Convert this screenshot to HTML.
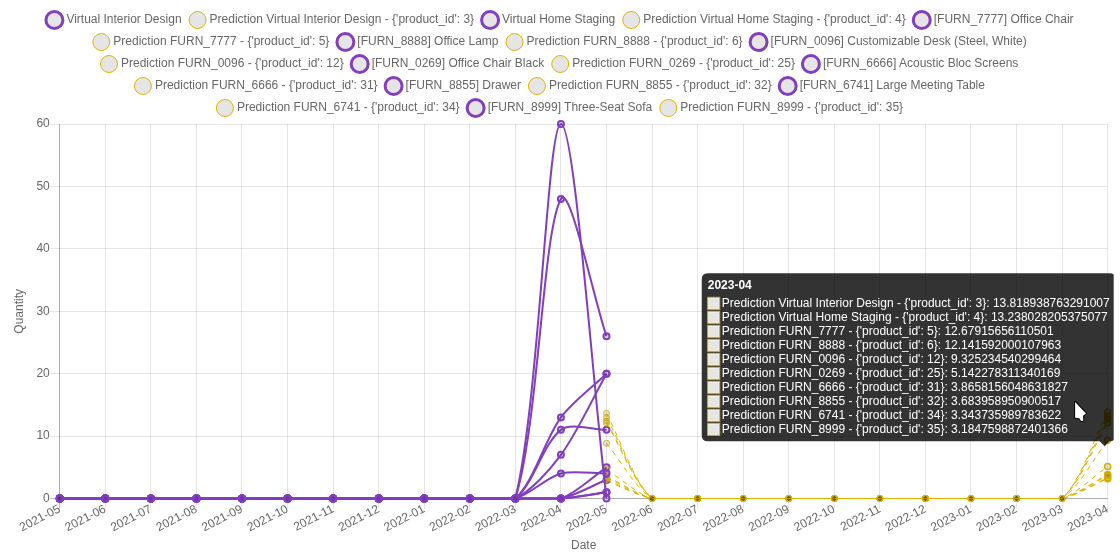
<!DOCTYPE html>
<html><head><meta charset="utf-8"><style>
html,body{margin:0;padding:0;background:#fff;width:1120px;height:553px;overflow:hidden}
svg{display:block;will-change:transform}
</style></head><body>
<svg width="1120" height="553" viewBox="0 0 1120 553">
<defs><clipPath id="cv"><rect x="8" y="0" width="1105.7" height="553"/></clipPath></defs>
<g clip-path="url(#cv)">
<path d="M49.75 498.50H1107.68" stroke="rgba(0,0,0,0.25)" stroke-width="1"/>
<path d="M49.75 436.50H1107.68" stroke="rgba(0,0,0,0.1)" stroke-width="1"/>
<path d="M49.75 373.50H1107.68" stroke="rgba(0,0,0,0.1)" stroke-width="1"/>
<path d="M49.75 311.50H1107.68" stroke="rgba(0,0,0,0.1)" stroke-width="1"/>
<path d="M49.75 248.50H1107.68" stroke="rgba(0,0,0,0.1)" stroke-width="1"/>
<path d="M49.75 186.50H1107.68" stroke="rgba(0,0,0,0.1)" stroke-width="1"/>
<path d="M49.75 124.50H1107.68" stroke="rgba(0,0,0,0.1)" stroke-width="1"/>
<path d="M59.50 124.10V508.50" stroke="rgba(0,0,0,0.25)" stroke-width="1"/>
<path d="M105.50 124.10V508.50" stroke="rgba(0,0,0,0.1)" stroke-width="1"/>
<path d="M150.50 124.10V508.50" stroke="rgba(0,0,0,0.1)" stroke-width="1"/>
<path d="M196.50 124.10V508.50" stroke="rgba(0,0,0,0.1)" stroke-width="1"/>
<path d="M241.50 124.10V508.50" stroke="rgba(0,0,0,0.1)" stroke-width="1"/>
<path d="M287.50 124.10V508.50" stroke="rgba(0,0,0,0.1)" stroke-width="1"/>
<path d="M333.50 124.10V508.50" stroke="rgba(0,0,0,0.1)" stroke-width="1"/>
<path d="M378.50 124.10V508.50" stroke="rgba(0,0,0,0.1)" stroke-width="1"/>
<path d="M424.50 124.10V508.50" stroke="rgba(0,0,0,0.1)" stroke-width="1"/>
<path d="M469.50 124.10V508.50" stroke="rgba(0,0,0,0.1)" stroke-width="1"/>
<path d="M515.50 124.10V508.50" stroke="rgba(0,0,0,0.1)" stroke-width="1"/>
<path d="M560.50 124.10V508.50" stroke="rgba(0,0,0,0.1)" stroke-width="1"/>
<path d="M606.50 124.10V508.50" stroke="rgba(0,0,0,0.1)" stroke-width="1"/>
<path d="M652.50 124.10V508.50" stroke="rgba(0,0,0,0.1)" stroke-width="1"/>
<path d="M697.50 124.10V508.50" stroke="rgba(0,0,0,0.1)" stroke-width="1"/>
<path d="M743.50 124.10V508.50" stroke="rgba(0,0,0,0.1)" stroke-width="1"/>
<path d="M788.50 124.10V508.50" stroke="rgba(0,0,0,0.1)" stroke-width="1"/>
<path d="M834.50 124.10V508.50" stroke="rgba(0,0,0,0.1)" stroke-width="1"/>
<path d="M879.50 124.10V508.50" stroke="rgba(0,0,0,0.1)" stroke-width="1"/>
<path d="M925.50 124.10V508.50" stroke="rgba(0,0,0,0.1)" stroke-width="1"/>
<path d="M970.50 124.10V508.50" stroke="rgba(0,0,0,0.1)" stroke-width="1"/>
<path d="M1016.50 124.10V508.50" stroke="rgba(0,0,0,0.1)" stroke-width="1"/>
<path d="M1062.50 124.10V508.50" stroke="rgba(0,0,0,0.1)" stroke-width="1"/>
<path d="M1107.50 124.10V508.50" stroke="rgba(0,0,0,0.1)" stroke-width="1"/>
<path d="M59.50 124.10V498.50" stroke="rgba(0,0,0,0.1)" stroke-width="1"/>
<path d="M59.75 498.50H1107.68" stroke="rgba(0,0,0,0.1)" stroke-width="1"/>
<g font-family="Liberation Sans, sans-serif" font-size="12" fill="#666"><text x="49.75" y="501.80" text-anchor="end">0</text><text x="49.75" y="439.40" text-anchor="end">10</text><text x="49.75" y="377.00" text-anchor="end">20</text><text x="49.75" y="314.60" text-anchor="end">30</text><text x="49.75" y="252.20" text-anchor="end">40</text><text x="49.75" y="189.80" text-anchor="end">50</text><text x="49.75" y="127.40" text-anchor="end">60</text><text transform="translate(59.75 508.50) rotate(-27.000)" x="0" y="3.30" text-anchor="end">2021-05</text><text transform="translate(105.31 508.50) rotate(-27.000)" x="0" y="3.30" text-anchor="end">2021-06</text><text transform="translate(150.87 508.50) rotate(-27.000)" x="0" y="3.30" text-anchor="end">2021-07</text><text transform="translate(196.44 508.50) rotate(-27.000)" x="0" y="3.30" text-anchor="end">2021-08</text><text transform="translate(242.00 508.50) rotate(-27.000)" x="0" y="3.30" text-anchor="end">2021-09</text><text transform="translate(287.56 508.50) rotate(-27.000)" x="0" y="3.30" text-anchor="end">2021-10</text><text transform="translate(333.12 508.50) rotate(-27.000)" x="0" y="3.30" text-anchor="end">2021-11</text><text transform="translate(378.69 508.50) rotate(-27.000)" x="0" y="3.30" text-anchor="end">2021-12</text><text transform="translate(424.25 508.50) rotate(-27.000)" x="0" y="3.30" text-anchor="end">2022-01</text><text transform="translate(469.81 508.50) rotate(-27.000)" x="0" y="3.30" text-anchor="end">2022-02</text><text transform="translate(515.37 508.50) rotate(-27.000)" x="0" y="3.30" text-anchor="end">2022-03</text><text transform="translate(560.93 508.50) rotate(-27.000)" x="0" y="3.30" text-anchor="end">2022-04</text><text transform="translate(606.50 508.50) rotate(-27.000)" x="0" y="3.30" text-anchor="end">2022-05</text><text transform="translate(652.06 508.50) rotate(-27.000)" x="0" y="3.30" text-anchor="end">2022-06</text><text transform="translate(697.62 508.50) rotate(-27.000)" x="0" y="3.30" text-anchor="end">2022-07</text><text transform="translate(743.18 508.50) rotate(-27.000)" x="0" y="3.30" text-anchor="end">2022-08</text><text transform="translate(788.74 508.50) rotate(-27.000)" x="0" y="3.30" text-anchor="end">2022-09</text><text transform="translate(834.31 508.50) rotate(-27.000)" x="0" y="3.30" text-anchor="end">2022-10</text><text transform="translate(879.87 508.50) rotate(-27.000)" x="0" y="3.30" text-anchor="end">2022-11</text><text transform="translate(925.43 508.50) rotate(-27.000)" x="0" y="3.30" text-anchor="end">2022-12</text><text transform="translate(970.99 508.50) rotate(-27.000)" x="0" y="3.30" text-anchor="end">2023-01</text><text transform="translate(1016.56 508.50) rotate(-27.000)" x="0" y="3.30" text-anchor="end">2023-02</text><text transform="translate(1062.12 508.50) rotate(-27.000)" x="0" y="3.30" text-anchor="end">2023-03</text><text transform="translate(1107.68 508.50) rotate(-27.000)" x="0" y="3.30" text-anchor="end">2023-04</text><text transform="translate(19.20 311.30) rotate(-90)" x="0" y="3.30" text-anchor="middle">Quantity</text><text x="583.72" y="548.68" text-anchor="middle">Date</text></g>
<g><path d="M606.496 481.028C620.165 486.270 637.921 495.789 652.058 498.500C665.258 498.500 683.952 498.500 697.620 498.500C711.289 498.500 729.514 498.500 743.183 498.500C756.851 498.500 775.076 498.500 788.745 498.500C802.413 498.500 820.638 498.500 834.307 498.500C847.976 498.500 866.200 498.500 879.869 498.500C893.538 498.500 911.763 498.500 925.431 498.500C939.100 498.500 957.325 498.500 970.993 498.500C984.662 498.500 1002.887 498.500 1016.556 498.500C1030.224 498.500 1049.044 498.500 1062.118 498.500C1076.381 495.389 1094.011 484.589 1107.680 478.627" fill="none" stroke="#dcb400" stroke-width="1.0" stroke-dasharray="5 5"/><circle cx="606.496" cy="481.028" r="3" fill="rgba(0,0,0,0.1)" stroke="#dcb400" stroke-width="1.0"/><circle cx="652.058" cy="498.500" r="3" fill="rgba(0,0,0,0.1)" stroke="#dcb400" stroke-width="1.0"/><circle cx="697.620" cy="498.500" r="3" fill="rgba(0,0,0,0.1)" stroke="#dcb400" stroke-width="1.0"/><circle cx="743.183" cy="498.500" r="3" fill="rgba(0,0,0,0.1)" stroke="#dcb400" stroke-width="1.0"/><circle cx="788.745" cy="498.500" r="3" fill="rgba(0,0,0,0.1)" stroke="#dcb400" stroke-width="1.0"/><circle cx="834.307" cy="498.500" r="3" fill="rgba(0,0,0,0.1)" stroke="#dcb400" stroke-width="1.0"/><circle cx="879.869" cy="498.500" r="3" fill="rgba(0,0,0,0.1)" stroke="#dcb400" stroke-width="1.0"/><circle cx="925.431" cy="498.500" r="3" fill="rgba(0,0,0,0.1)" stroke="#dcb400" stroke-width="1.0"/><circle cx="970.993" cy="498.500" r="3" fill="rgba(0,0,0,0.1)" stroke="#dcb400" stroke-width="1.0"/><circle cx="1016.556" cy="498.500" r="3" fill="rgba(0,0,0,0.1)" stroke="#dcb400" stroke-width="1.0"/><circle cx="1062.118" cy="498.500" r="3" fill="rgba(0,0,0,0.1)" stroke="#dcb400" stroke-width="1.0"/><circle cx="1107.680" cy="478.627" r="3" fill="rgba(0,0,0,0.1)" stroke="#d4ad00" stroke-width="1.5"/><path d="M59.750 498.500C73.419 498.500 91.644 498.500 105.312 498.500C118.981 498.500 137.206 498.500 150.874 498.500C164.543 498.500 182.768 498.500 196.437 498.500C210.105 498.500 228.330 498.500 241.999 498.500C255.667 498.500 273.892 498.500 287.561 498.500C301.230 498.500 319.454 498.500 333.123 498.500C346.792 498.500 365.017 498.500 378.685 498.500C392.354 498.500 410.579 498.500 424.247 498.500C437.916 498.500 456.141 498.500 469.810 498.500C483.478 498.500 501.703 498.500 515.372 498.500C529.040 498.500 547.798 498.500 560.934 498.500C575.135 495.583 592.827 485.396 606.496 479.780" fill="none" stroke="#823ebe" stroke-width="2.0"/><circle cx="59.750" cy="498.500" r="3" fill="rgba(0,0,0,0.1)" stroke="#823ebe" stroke-width="2.0"/><circle cx="105.312" cy="498.500" r="3" fill="rgba(0,0,0,0.1)" stroke="#823ebe" stroke-width="2.0"/><circle cx="150.874" cy="498.500" r="3" fill="rgba(0,0,0,0.1)" stroke="#823ebe" stroke-width="2.0"/><circle cx="196.437" cy="498.500" r="3" fill="rgba(0,0,0,0.1)" stroke="#823ebe" stroke-width="2.0"/><circle cx="241.999" cy="498.500" r="3" fill="rgba(0,0,0,0.1)" stroke="#823ebe" stroke-width="2.0"/><circle cx="287.561" cy="498.500" r="3" fill="rgba(0,0,0,0.1)" stroke="#823ebe" stroke-width="2.0"/><circle cx="333.123" cy="498.500" r="3" fill="rgba(0,0,0,0.1)" stroke="#823ebe" stroke-width="2.0"/><circle cx="378.685" cy="498.500" r="3" fill="rgba(0,0,0,0.1)" stroke="#823ebe" stroke-width="2.0"/><circle cx="424.247" cy="498.500" r="3" fill="rgba(0,0,0,0.1)" stroke="#823ebe" stroke-width="2.0"/><circle cx="469.810" cy="498.500" r="3" fill="rgba(0,0,0,0.1)" stroke="#823ebe" stroke-width="2.0"/><circle cx="515.372" cy="498.500" r="3" fill="rgba(0,0,0,0.1)" stroke="#823ebe" stroke-width="2.0"/><circle cx="560.934" cy="498.500" r="3" fill="rgba(0,0,0,0.1)" stroke="#823ebe" stroke-width="2.0"/><circle cx="606.496" cy="479.780" r="3" fill="rgba(0,0,0,0.1)" stroke="#823ebe" stroke-width="2.0"/><path d="M606.496 479.468C620.165 485.178 637.840 495.530 652.058 498.500C665.178 498.500 683.952 498.500 697.620 498.500C711.289 498.500 729.514 498.500 743.183 498.500C756.851 498.500 775.076 498.500 788.745 498.500C802.413 498.500 820.638 498.500 834.307 498.500C847.976 498.500 866.200 498.500 879.869 498.500C893.538 498.500 911.763 498.500 925.431 498.500C939.100 498.500 957.325 498.500 970.993 498.500C984.662 498.500 1002.887 498.500 1016.556 498.500C1030.224 498.500 1049.099 498.500 1062.118 498.500C1076.437 495.221 1094.011 483.895 1107.680 477.635" fill="none" stroke="#dcb400" stroke-width="1.0" stroke-dasharray="5 5"/><circle cx="606.496" cy="479.468" r="3" fill="rgba(0,0,0,0.1)" stroke="#dcb400" stroke-width="1.0"/><circle cx="652.058" cy="498.500" r="3" fill="rgba(0,0,0,0.1)" stroke="#dcb400" stroke-width="1.0"/><circle cx="697.620" cy="498.500" r="3" fill="rgba(0,0,0,0.1)" stroke="#dcb400" stroke-width="1.0"/><circle cx="743.183" cy="498.500" r="3" fill="rgba(0,0,0,0.1)" stroke="#dcb400" stroke-width="1.0"/><circle cx="788.745" cy="498.500" r="3" fill="rgba(0,0,0,0.1)" stroke="#dcb400" stroke-width="1.0"/><circle cx="834.307" cy="498.500" r="3" fill="rgba(0,0,0,0.1)" stroke="#dcb400" stroke-width="1.0"/><circle cx="879.869" cy="498.500" r="3" fill="rgba(0,0,0,0.1)" stroke="#dcb400" stroke-width="1.0"/><circle cx="925.431" cy="498.500" r="3" fill="rgba(0,0,0,0.1)" stroke="#dcb400" stroke-width="1.0"/><circle cx="970.993" cy="498.500" r="3" fill="rgba(0,0,0,0.1)" stroke="#dcb400" stroke-width="1.0"/><circle cx="1016.556" cy="498.500" r="3" fill="rgba(0,0,0,0.1)" stroke="#dcb400" stroke-width="1.0"/><circle cx="1062.118" cy="498.500" r="3" fill="rgba(0,0,0,0.1)" stroke="#dcb400" stroke-width="1.0"/><circle cx="1107.680" cy="477.635" r="3" fill="rgba(0,0,0,0.1)" stroke="#d4ad00" stroke-width="1.5"/><path d="M59.750 498.500C73.419 498.500 91.644 498.500 105.312 498.500C118.981 498.500 137.206 498.500 150.874 498.500C164.543 498.500 182.768 498.500 196.437 498.500C210.105 498.500 228.330 498.500 241.999 498.500C255.667 498.500 273.892 498.500 287.561 498.500C301.230 498.500 319.454 498.500 333.123 498.500C346.792 498.500 365.017 498.500 378.685 498.500C392.354 498.500 410.579 498.500 424.247 498.500C437.916 498.500 456.141 498.500 469.810 498.500C483.478 498.500 501.703 498.500 515.372 498.500C529.040 498.500 548.575 498.500 560.934 498.500C575.913 493.371 592.827 476.660 606.496 467.300" fill="none" stroke="#823ebe" stroke-width="2.0"/><circle cx="59.750" cy="498.500" r="3" fill="rgba(0,0,0,0.1)" stroke="#823ebe" stroke-width="2.0"/><circle cx="105.312" cy="498.500" r="3" fill="rgba(0,0,0,0.1)" stroke="#823ebe" stroke-width="2.0"/><circle cx="150.874" cy="498.500" r="3" fill="rgba(0,0,0,0.1)" stroke="#823ebe" stroke-width="2.0"/><circle cx="196.437" cy="498.500" r="3" fill="rgba(0,0,0,0.1)" stroke="#823ebe" stroke-width="2.0"/><circle cx="241.999" cy="498.500" r="3" fill="rgba(0,0,0,0.1)" stroke="#823ebe" stroke-width="2.0"/><circle cx="287.561" cy="498.500" r="3" fill="rgba(0,0,0,0.1)" stroke="#823ebe" stroke-width="2.0"/><circle cx="333.123" cy="498.500" r="3" fill="rgba(0,0,0,0.1)" stroke="#823ebe" stroke-width="2.0"/><circle cx="378.685" cy="498.500" r="3" fill="rgba(0,0,0,0.1)" stroke="#823ebe" stroke-width="2.0"/><circle cx="424.247" cy="498.500" r="3" fill="rgba(0,0,0,0.1)" stroke="#823ebe" stroke-width="2.0"/><circle cx="469.810" cy="498.500" r="3" fill="rgba(0,0,0,0.1)" stroke="#823ebe" stroke-width="2.0"/><circle cx="515.372" cy="498.500" r="3" fill="rgba(0,0,0,0.1)" stroke="#823ebe" stroke-width="2.0"/><circle cx="560.934" cy="498.500" r="3" fill="rgba(0,0,0,0.1)" stroke="#823ebe" stroke-width="2.0"/><circle cx="606.496" cy="467.300" r="3" fill="rgba(0,0,0,0.1)" stroke="#823ebe" stroke-width="2.0"/><path d="M606.496 477.284C620.165 483.649 637.720 495.162 652.058 498.500C665.057 498.500 683.952 498.500 697.620 498.500C711.289 498.500 729.514 498.500 743.183 498.500C756.851 498.500 775.076 498.500 788.745 498.500C802.413 498.500 820.638 498.500 834.307 498.500C847.976 498.500 866.200 498.500 879.869 498.500C893.538 498.500 911.763 498.500 925.431 498.500C939.100 498.500 957.325 498.500 970.993 498.500C984.662 498.500 1002.887 498.500 1016.556 498.500C1030.224 498.500 1049.223 498.500 1062.118 498.500C1076.561 494.857 1094.011 482.408 1107.680 475.512" fill="none" stroke="#dcb400" stroke-width="1.0" stroke-dasharray="5 5"/><circle cx="606.496" cy="477.284" r="3" fill="rgba(0,0,0,0.1)" stroke="#dcb400" stroke-width="1.0"/><circle cx="652.058" cy="498.500" r="3" fill="rgba(0,0,0,0.1)" stroke="#dcb400" stroke-width="1.0"/><circle cx="697.620" cy="498.500" r="3" fill="rgba(0,0,0,0.1)" stroke="#dcb400" stroke-width="1.0"/><circle cx="743.183" cy="498.500" r="3" fill="rgba(0,0,0,0.1)" stroke="#dcb400" stroke-width="1.0"/><circle cx="788.745" cy="498.500" r="3" fill="rgba(0,0,0,0.1)" stroke="#dcb400" stroke-width="1.0"/><circle cx="834.307" cy="498.500" r="3" fill="rgba(0,0,0,0.1)" stroke="#dcb400" stroke-width="1.0"/><circle cx="879.869" cy="498.500" r="3" fill="rgba(0,0,0,0.1)" stroke="#dcb400" stroke-width="1.0"/><circle cx="925.431" cy="498.500" r="3" fill="rgba(0,0,0,0.1)" stroke="#dcb400" stroke-width="1.0"/><circle cx="970.993" cy="498.500" r="3" fill="rgba(0,0,0,0.1)" stroke="#dcb400" stroke-width="1.0"/><circle cx="1016.556" cy="498.500" r="3" fill="rgba(0,0,0,0.1)" stroke="#dcb400" stroke-width="1.0"/><circle cx="1062.118" cy="498.500" r="3" fill="rgba(0,0,0,0.1)" stroke="#dcb400" stroke-width="1.0"/><circle cx="1107.680" cy="475.512" r="3" fill="rgba(0,0,0,0.1)" stroke="#d4ad00" stroke-width="1.5"/><path d="M59.750 498.500C73.419 498.500 91.644 498.500 105.312 498.500C118.981 498.500 137.206 498.500 150.874 498.500C164.543 498.500 182.768 498.500 196.437 498.500C210.105 498.500 228.330 498.500 241.999 498.500C255.667 498.500 273.892 498.500 287.561 498.500C301.230 498.500 319.454 498.500 333.123 498.500C346.792 498.500 365.017 498.500 378.685 498.500C392.354 498.500 410.579 498.500 424.247 498.500C437.916 498.500 456.141 498.500 469.810 498.500C483.478 498.500 501.703 498.500 515.372 498.500C529.040 498.500 547.329 498.500 560.934 498.500C574.666 497.560 592.827 494.132 606.496 492.260" fill="none" stroke="#823ebe" stroke-width="2.0"/><circle cx="59.750" cy="498.500" r="3" fill="rgba(0,0,0,0.1)" stroke="#823ebe" stroke-width="2.0"/><circle cx="105.312" cy="498.500" r="3" fill="rgba(0,0,0,0.1)" stroke="#823ebe" stroke-width="2.0"/><circle cx="150.874" cy="498.500" r="3" fill="rgba(0,0,0,0.1)" stroke="#823ebe" stroke-width="2.0"/><circle cx="196.437" cy="498.500" r="3" fill="rgba(0,0,0,0.1)" stroke="#823ebe" stroke-width="2.0"/><circle cx="241.999" cy="498.500" r="3" fill="rgba(0,0,0,0.1)" stroke="#823ebe" stroke-width="2.0"/><circle cx="287.561" cy="498.500" r="3" fill="rgba(0,0,0,0.1)" stroke="#823ebe" stroke-width="2.0"/><circle cx="333.123" cy="498.500" r="3" fill="rgba(0,0,0,0.1)" stroke="#823ebe" stroke-width="2.0"/><circle cx="378.685" cy="498.500" r="3" fill="rgba(0,0,0,0.1)" stroke="#823ebe" stroke-width="2.0"/><circle cx="424.247" cy="498.500" r="3" fill="rgba(0,0,0,0.1)" stroke="#823ebe" stroke-width="2.0"/><circle cx="469.810" cy="498.500" r="3" fill="rgba(0,0,0,0.1)" stroke="#823ebe" stroke-width="2.0"/><circle cx="515.372" cy="498.500" r="3" fill="rgba(0,0,0,0.1)" stroke="#823ebe" stroke-width="2.0"/><circle cx="560.934" cy="498.500" r="3" fill="rgba(0,0,0,0.1)" stroke="#823ebe" stroke-width="2.0"/><circle cx="606.496" cy="492.260" r="3" fill="rgba(0,0,0,0.1)" stroke="#823ebe" stroke-width="2.0"/><path d="M606.496 476.036C620.165 482.775 637.647 494.947 652.058 498.500C664.984 498.500 683.952 498.500 697.620 498.500C711.289 498.500 729.514 498.500 743.183 498.500C756.851 498.500 775.076 498.500 788.745 498.500C802.413 498.500 820.638 498.500 834.307 498.500C847.976 498.500 866.200 498.500 879.869 498.500C893.538 498.500 911.763 498.500 925.431 498.500C939.100 498.500 957.325 498.500 970.993 498.500C984.662 498.500 1002.887 498.500 1016.556 498.500C1030.224 498.500 1049.292 498.500 1062.118 498.500C1076.630 494.658 1094.011 481.614 1107.680 474.377" fill="none" stroke="#dcb400" stroke-width="1.0" stroke-dasharray="5 5"/><circle cx="606.496" cy="476.036" r="3" fill="rgba(0,0,0,0.1)" stroke="#dcb400" stroke-width="1.0"/><circle cx="652.058" cy="498.500" r="3" fill="rgba(0,0,0,0.1)" stroke="#dcb400" stroke-width="1.0"/><circle cx="697.620" cy="498.500" r="3" fill="rgba(0,0,0,0.1)" stroke="#dcb400" stroke-width="1.0"/><circle cx="743.183" cy="498.500" r="3" fill="rgba(0,0,0,0.1)" stroke="#dcb400" stroke-width="1.0"/><circle cx="788.745" cy="498.500" r="3" fill="rgba(0,0,0,0.1)" stroke="#dcb400" stroke-width="1.0"/><circle cx="834.307" cy="498.500" r="3" fill="rgba(0,0,0,0.1)" stroke="#dcb400" stroke-width="1.0"/><circle cx="879.869" cy="498.500" r="3" fill="rgba(0,0,0,0.1)" stroke="#dcb400" stroke-width="1.0"/><circle cx="925.431" cy="498.500" r="3" fill="rgba(0,0,0,0.1)" stroke="#dcb400" stroke-width="1.0"/><circle cx="970.993" cy="498.500" r="3" fill="rgba(0,0,0,0.1)" stroke="#dcb400" stroke-width="1.0"/><circle cx="1016.556" cy="498.500" r="3" fill="rgba(0,0,0,0.1)" stroke="#dcb400" stroke-width="1.0"/><circle cx="1062.118" cy="498.500" r="3" fill="rgba(0,0,0,0.1)" stroke="#dcb400" stroke-width="1.0"/><circle cx="1107.680" cy="474.377" r="3" fill="rgba(0,0,0,0.1)" stroke="#d4ad00" stroke-width="1.5"/><path d="M59.750 498.500C73.419 498.500 91.644 498.500 105.312 498.500C118.981 498.500 137.206 498.500 150.874 498.500C164.543 498.500 182.768 498.500 196.437 498.500C210.105 498.500 228.330 498.500 241.999 498.500C255.667 498.500 273.892 498.500 287.561 498.500C301.230 498.500 319.454 498.500 333.123 498.500C346.792 498.500 365.017 498.500 378.685 498.500C392.354 498.500 410.579 498.500 424.247 498.500C437.916 498.500 456.141 498.500 469.810 498.500C483.478 498.500 501.703 498.500 515.372 498.500C529.040 498.500 547.329 498.500 560.934 498.500C574.666 497.560 592.827 494.132 606.496 492.260" fill="none" stroke="#823ebe" stroke-width="2.0"/><circle cx="59.750" cy="498.500" r="3" fill="rgba(0,0,0,0.1)" stroke="#823ebe" stroke-width="2.0"/><circle cx="105.312" cy="498.500" r="3" fill="rgba(0,0,0,0.1)" stroke="#823ebe" stroke-width="2.0"/><circle cx="150.874" cy="498.500" r="3" fill="rgba(0,0,0,0.1)" stroke="#823ebe" stroke-width="2.0"/><circle cx="196.437" cy="498.500" r="3" fill="rgba(0,0,0,0.1)" stroke="#823ebe" stroke-width="2.0"/><circle cx="241.999" cy="498.500" r="3" fill="rgba(0,0,0,0.1)" stroke="#823ebe" stroke-width="2.0"/><circle cx="287.561" cy="498.500" r="3" fill="rgba(0,0,0,0.1)" stroke="#823ebe" stroke-width="2.0"/><circle cx="333.123" cy="498.500" r="3" fill="rgba(0,0,0,0.1)" stroke="#823ebe" stroke-width="2.0"/><circle cx="378.685" cy="498.500" r="3" fill="rgba(0,0,0,0.1)" stroke="#823ebe" stroke-width="2.0"/><circle cx="424.247" cy="498.500" r="3" fill="rgba(0,0,0,0.1)" stroke="#823ebe" stroke-width="2.0"/><circle cx="469.810" cy="498.500" r="3" fill="rgba(0,0,0,0.1)" stroke="#823ebe" stroke-width="2.0"/><circle cx="515.372" cy="498.500" r="3" fill="rgba(0,0,0,0.1)" stroke="#823ebe" stroke-width="2.0"/><circle cx="560.934" cy="498.500" r="3" fill="rgba(0,0,0,0.1)" stroke="#823ebe" stroke-width="2.0"/><circle cx="606.496" cy="492.260" r="3" fill="rgba(0,0,0,0.1)" stroke="#823ebe" stroke-width="2.0"/><path d="M606.496 469.484C620.165 478.189 637.229 493.778 652.058 498.500C664.566 498.500 683.952 498.500 697.620 498.500C711.289 498.500 729.514 498.500 743.183 498.500C756.851 498.500 775.076 498.500 788.745 498.500C802.413 498.500 820.638 498.500 834.307 498.500C847.976 498.500 866.200 498.500 879.869 498.500C893.538 498.500 911.763 498.500 925.431 498.500C939.100 498.500 957.325 498.500 970.993 498.500C984.662 498.500 1002.887 498.500 1016.556 498.500C1030.224 498.500 1049.821 498.500 1062.118 498.500C1077.158 493.204 1094.011 476.039 1107.680 466.412" fill="none" stroke="#dcb400" stroke-width="1.0" stroke-dasharray="5 5"/><circle cx="606.496" cy="469.484" r="3" fill="rgba(0,0,0,0.1)" stroke="#dcb400" stroke-width="1.0"/><circle cx="652.058" cy="498.500" r="3" fill="rgba(0,0,0,0.1)" stroke="#dcb400" stroke-width="1.0"/><circle cx="697.620" cy="498.500" r="3" fill="rgba(0,0,0,0.1)" stroke="#dcb400" stroke-width="1.0"/><circle cx="743.183" cy="498.500" r="3" fill="rgba(0,0,0,0.1)" stroke="#dcb400" stroke-width="1.0"/><circle cx="788.745" cy="498.500" r="3" fill="rgba(0,0,0,0.1)" stroke="#dcb400" stroke-width="1.0"/><circle cx="834.307" cy="498.500" r="3" fill="rgba(0,0,0,0.1)" stroke="#dcb400" stroke-width="1.0"/><circle cx="879.869" cy="498.500" r="3" fill="rgba(0,0,0,0.1)" stroke="#dcb400" stroke-width="1.0"/><circle cx="925.431" cy="498.500" r="3" fill="rgba(0,0,0,0.1)" stroke="#dcb400" stroke-width="1.0"/><circle cx="970.993" cy="498.500" r="3" fill="rgba(0,0,0,0.1)" stroke="#dcb400" stroke-width="1.0"/><circle cx="1016.556" cy="498.500" r="3" fill="rgba(0,0,0,0.1)" stroke="#dcb400" stroke-width="1.0"/><circle cx="1062.118" cy="498.500" r="3" fill="rgba(0,0,0,0.1)" stroke="#dcb400" stroke-width="1.0"/><circle cx="1107.680" cy="466.412" r="3" fill="rgba(0,0,0,0.1)" stroke="#d4ad00" stroke-width="1.5"/><path d="M59.750 498.500C73.419 498.500 91.644 498.500 105.312 498.500C118.981 498.500 137.206 498.500 150.874 498.500C164.543 498.500 182.768 498.500 196.437 498.500C210.105 498.500 228.330 498.500 241.999 498.500C255.667 498.500 273.892 498.500 287.561 498.500C301.230 498.500 319.454 498.500 333.123 498.500C346.792 498.500 365.017 498.500 378.685 498.500C392.354 498.500 410.579 498.500 424.247 498.500C437.916 498.500 456.141 498.500 469.810 498.500C483.478 498.500 502.599 498.500 515.372 498.500C529.936 494.511 546.370 477.529 560.934 473.540C573.707 470.041 592.827 473.540 606.496 473.540" fill="none" stroke="#823ebe" stroke-width="2.0"/><circle cx="59.750" cy="498.500" r="3" fill="rgba(0,0,0,0.1)" stroke="#823ebe" stroke-width="2.0"/><circle cx="105.312" cy="498.500" r="3" fill="rgba(0,0,0,0.1)" stroke="#823ebe" stroke-width="2.0"/><circle cx="150.874" cy="498.500" r="3" fill="rgba(0,0,0,0.1)" stroke="#823ebe" stroke-width="2.0"/><circle cx="196.437" cy="498.500" r="3" fill="rgba(0,0,0,0.1)" stroke="#823ebe" stroke-width="2.0"/><circle cx="241.999" cy="498.500" r="3" fill="rgba(0,0,0,0.1)" stroke="#823ebe" stroke-width="2.0"/><circle cx="287.561" cy="498.500" r="3" fill="rgba(0,0,0,0.1)" stroke="#823ebe" stroke-width="2.0"/><circle cx="333.123" cy="498.500" r="3" fill="rgba(0,0,0,0.1)" stroke="#823ebe" stroke-width="2.0"/><circle cx="378.685" cy="498.500" r="3" fill="rgba(0,0,0,0.1)" stroke="#823ebe" stroke-width="2.0"/><circle cx="424.247" cy="498.500" r="3" fill="rgba(0,0,0,0.1)" stroke="#823ebe" stroke-width="2.0"/><circle cx="469.810" cy="498.500" r="3" fill="rgba(0,0,0,0.1)" stroke="#823ebe" stroke-width="2.0"/><circle cx="515.372" cy="498.500" r="3" fill="rgba(0,0,0,0.1)" stroke="#823ebe" stroke-width="2.0"/><circle cx="560.934" cy="473.540" r="3" fill="rgba(0,0,0,0.1)" stroke="#823ebe" stroke-width="2.0"/><circle cx="606.496" cy="473.540" r="3" fill="rgba(0,0,0,0.1)" stroke="#823ebe" stroke-width="2.0"/><path d="M606.496 443.276C620.165 459.843 635.353 488.376 652.058 498.500C662.690 498.500 683.952 498.500 697.620 498.500C711.289 498.500 729.514 498.500 743.183 498.500C756.851 498.500 775.076 498.500 788.745 498.500C802.413 498.500 820.638 498.500 834.307 498.500C847.976 498.500 866.200 498.500 879.869 498.500C893.538 498.500 911.763 498.500 925.431 498.500C939.100 498.500 957.325 498.500 970.993 498.500C984.662 498.500 1002.887 498.500 1016.556 498.500C1030.224 498.500 1051.692 498.500 1062.118 498.500C1079.029 487.701 1094.011 457.767 1107.680 440.311" fill="none" stroke="#dcb400" stroke-width="1.0" stroke-dasharray="5 5"/><circle cx="606.496" cy="443.276" r="3" fill="rgba(0,0,0,0.1)" stroke="#dcb400" stroke-width="1.0"/><circle cx="652.058" cy="498.500" r="3" fill="rgba(0,0,0,0.1)" stroke="#dcb400" stroke-width="1.0"/><circle cx="697.620" cy="498.500" r="3" fill="rgba(0,0,0,0.1)" stroke="#dcb400" stroke-width="1.0"/><circle cx="743.183" cy="498.500" r="3" fill="rgba(0,0,0,0.1)" stroke="#dcb400" stroke-width="1.0"/><circle cx="788.745" cy="498.500" r="3" fill="rgba(0,0,0,0.1)" stroke="#dcb400" stroke-width="1.0"/><circle cx="834.307" cy="498.500" r="3" fill="rgba(0,0,0,0.1)" stroke="#dcb400" stroke-width="1.0"/><circle cx="879.869" cy="498.500" r="3" fill="rgba(0,0,0,0.1)" stroke="#dcb400" stroke-width="1.0"/><circle cx="925.431" cy="498.500" r="3" fill="rgba(0,0,0,0.1)" stroke="#dcb400" stroke-width="1.0"/><circle cx="970.993" cy="498.500" r="3" fill="rgba(0,0,0,0.1)" stroke="#dcb400" stroke-width="1.0"/><circle cx="1016.556" cy="498.500" r="3" fill="rgba(0,0,0,0.1)" stroke="#dcb400" stroke-width="1.0"/><circle cx="1062.118" cy="498.500" r="3" fill="rgba(0,0,0,0.1)" stroke="#dcb400" stroke-width="1.0"/><circle cx="1107.680" cy="440.311" r="3" fill="rgba(0,0,0,0.1)" stroke="#d4ad00" stroke-width="1.5"/><path d="M59.750 498.500C73.419 498.500 91.644 498.500 105.312 498.500C118.981 498.500 137.206 498.500 150.874 498.500C164.543 498.500 182.768 498.500 196.437 498.500C210.105 498.500 228.330 498.500 241.999 498.500C255.667 498.500 273.892 498.500 287.561 498.500C301.230 498.500 319.454 498.500 333.123 498.500C346.792 498.500 365.017 498.500 378.685 498.500C392.354 498.500 410.579 498.500 424.247 498.500C437.916 498.500 456.141 498.500 469.810 498.500C483.478 498.500 505.637 498.500 515.372 498.500C532.974 485.241 543.331 443.119 560.934 429.860C570.669 422.527 592.827 429.860 606.496 429.860" fill="none" stroke="#823ebe" stroke-width="2.0"/><circle cx="59.750" cy="498.500" r="3" fill="rgba(0,0,0,0.1)" stroke="#823ebe" stroke-width="2.0"/><circle cx="105.312" cy="498.500" r="3" fill="rgba(0,0,0,0.1)" stroke="#823ebe" stroke-width="2.0"/><circle cx="150.874" cy="498.500" r="3" fill="rgba(0,0,0,0.1)" stroke="#823ebe" stroke-width="2.0"/><circle cx="196.437" cy="498.500" r="3" fill="rgba(0,0,0,0.1)" stroke="#823ebe" stroke-width="2.0"/><circle cx="241.999" cy="498.500" r="3" fill="rgba(0,0,0,0.1)" stroke="#823ebe" stroke-width="2.0"/><circle cx="287.561" cy="498.500" r="3" fill="rgba(0,0,0,0.1)" stroke="#823ebe" stroke-width="2.0"/><circle cx="333.123" cy="498.500" r="3" fill="rgba(0,0,0,0.1)" stroke="#823ebe" stroke-width="2.0"/><circle cx="378.685" cy="498.500" r="3" fill="rgba(0,0,0,0.1)" stroke="#823ebe" stroke-width="2.0"/><circle cx="424.247" cy="498.500" r="3" fill="rgba(0,0,0,0.1)" stroke="#823ebe" stroke-width="2.0"/><circle cx="469.810" cy="498.500" r="3" fill="rgba(0,0,0,0.1)" stroke="#823ebe" stroke-width="2.0"/><circle cx="515.372" cy="498.500" r="3" fill="rgba(0,0,0,0.1)" stroke="#823ebe" stroke-width="2.0"/><circle cx="560.934" cy="429.860" r="3" fill="rgba(0,0,0,0.1)" stroke="#823ebe" stroke-width="2.0"/><circle cx="606.496" cy="429.860" r="3" fill="rgba(0,0,0,0.1)" stroke="#823ebe" stroke-width="2.0"/><path d="M606.496 422.996C620.165 445.647 634.034 483.565 652.058 498.500C661.371 498.500 683.952 498.500 697.620 498.500C711.289 498.500 729.514 498.500 743.183 498.500C756.851 498.500 775.076 498.500 788.745 498.500C802.413 498.500 820.638 498.500 834.307 498.500C847.976 498.500 866.200 498.500 879.869 498.500C893.538 498.500 911.763 498.500 925.431 498.500C939.100 498.500 957.325 498.500 970.993 498.500C984.662 498.500 1002.887 498.500 1016.556 498.500C1030.224 498.500 1052.821 498.500 1062.118 498.500C1080.158 483.501 1094.011 445.466 1107.680 422.736" fill="none" stroke="#dcb400" stroke-width="1.0" stroke-dasharray="5 5"/><circle cx="606.496" cy="422.996" r="3" fill="rgba(0,0,0,0.1)" stroke="#dcb400" stroke-width="1.0"/><circle cx="652.058" cy="498.500" r="3" fill="rgba(0,0,0,0.1)" stroke="#dcb400" stroke-width="1.0"/><circle cx="697.620" cy="498.500" r="3" fill="rgba(0,0,0,0.1)" stroke="#dcb400" stroke-width="1.0"/><circle cx="743.183" cy="498.500" r="3" fill="rgba(0,0,0,0.1)" stroke="#dcb400" stroke-width="1.0"/><circle cx="788.745" cy="498.500" r="3" fill="rgba(0,0,0,0.1)" stroke="#dcb400" stroke-width="1.0"/><circle cx="834.307" cy="498.500" r="3" fill="rgba(0,0,0,0.1)" stroke="#dcb400" stroke-width="1.0"/><circle cx="879.869" cy="498.500" r="3" fill="rgba(0,0,0,0.1)" stroke="#dcb400" stroke-width="1.0"/><circle cx="925.431" cy="498.500" r="3" fill="rgba(0,0,0,0.1)" stroke="#dcb400" stroke-width="1.0"/><circle cx="970.993" cy="498.500" r="3" fill="rgba(0,0,0,0.1)" stroke="#dcb400" stroke-width="1.0"/><circle cx="1016.556" cy="498.500" r="3" fill="rgba(0,0,0,0.1)" stroke="#dcb400" stroke-width="1.0"/><circle cx="1062.118" cy="498.500" r="3" fill="rgba(0,0,0,0.1)" stroke="#dcb400" stroke-width="1.0"/><circle cx="1107.680" cy="422.736" r="3" fill="rgba(0,0,0,0.1)" stroke="#d4ad00" stroke-width="1.5"/><path d="M59.750 498.500C73.419 498.500 91.644 498.500 105.312 498.500C118.981 498.500 137.206 498.500 150.874 498.500C164.543 498.500 182.768 498.500 196.437 498.500C210.105 498.500 228.330 498.500 241.999 498.500C255.667 498.500 273.892 498.500 287.561 498.500C301.230 498.500 319.454 498.500 333.123 498.500C346.792 498.500 365.017 498.500 378.685 498.500C392.354 498.500 410.579 498.500 424.247 498.500C437.916 498.500 456.141 498.500 469.810 498.500C483.478 498.500 503.911 498.500 515.372 498.500C531.248 490.890 549.884 469.953 560.934 454.820C577.222 432.513 592.827 398.036 606.496 373.700" fill="none" stroke="#823ebe" stroke-width="2.0"/><circle cx="59.750" cy="498.500" r="3" fill="rgba(0,0,0,0.1)" stroke="#823ebe" stroke-width="2.0"/><circle cx="105.312" cy="498.500" r="3" fill="rgba(0,0,0,0.1)" stroke="#823ebe" stroke-width="2.0"/><circle cx="150.874" cy="498.500" r="3" fill="rgba(0,0,0,0.1)" stroke="#823ebe" stroke-width="2.0"/><circle cx="196.437" cy="498.500" r="3" fill="rgba(0,0,0,0.1)" stroke="#823ebe" stroke-width="2.0"/><circle cx="241.999" cy="498.500" r="3" fill="rgba(0,0,0,0.1)" stroke="#823ebe" stroke-width="2.0"/><circle cx="287.561" cy="498.500" r="3" fill="rgba(0,0,0,0.1)" stroke="#823ebe" stroke-width="2.0"/><circle cx="333.123" cy="498.500" r="3" fill="rgba(0,0,0,0.1)" stroke="#823ebe" stroke-width="2.0"/><circle cx="378.685" cy="498.500" r="3" fill="rgba(0,0,0,0.1)" stroke="#823ebe" stroke-width="2.0"/><circle cx="424.247" cy="498.500" r="3" fill="rgba(0,0,0,0.1)" stroke="#823ebe" stroke-width="2.0"/><circle cx="469.810" cy="498.500" r="3" fill="rgba(0,0,0,0.1)" stroke="#823ebe" stroke-width="2.0"/><circle cx="515.372" cy="498.500" r="3" fill="rgba(0,0,0,0.1)" stroke="#823ebe" stroke-width="2.0"/><circle cx="560.934" cy="454.820" r="3" fill="rgba(0,0,0,0.1)" stroke="#823ebe" stroke-width="2.0"/><circle cx="606.496" cy="373.700" r="3" fill="rgba(0,0,0,0.1)" stroke="#823ebe" stroke-width="2.0"/><path d="M606.496 421.186C620.165 444.380 633.927 483.116 652.058 498.500C661.264 498.500 683.952 498.500 697.620 498.500C711.289 498.500 729.514 498.500 743.183 498.500C756.851 498.500 775.076 498.500 788.745 498.500C802.413 498.500 820.638 498.500 834.307 498.500C847.976 498.500 866.200 498.500 879.869 498.500C893.538 498.500 911.763 498.500 925.431 498.500C939.100 498.500 957.325 498.500 970.993 498.500C984.662 498.500 1002.887 498.500 1016.556 498.500C1030.224 498.500 1053.017 498.500 1062.118 498.500C1080.354 482.666 1094.011 443.117 1107.680 419.382" fill="none" stroke="#dcb400" stroke-width="1.0" stroke-dasharray="5 5"/><circle cx="606.496" cy="421.186" r="3" fill="rgba(0,0,0,0.1)" stroke="#dcb400" stroke-width="1.0"/><circle cx="652.058" cy="498.500" r="3" fill="rgba(0,0,0,0.1)" stroke="#dcb400" stroke-width="1.0"/><circle cx="697.620" cy="498.500" r="3" fill="rgba(0,0,0,0.1)" stroke="#dcb400" stroke-width="1.0"/><circle cx="743.183" cy="498.500" r="3" fill="rgba(0,0,0,0.1)" stroke="#dcb400" stroke-width="1.0"/><circle cx="788.745" cy="498.500" r="3" fill="rgba(0,0,0,0.1)" stroke="#dcb400" stroke-width="1.0"/><circle cx="834.307" cy="498.500" r="3" fill="rgba(0,0,0,0.1)" stroke="#dcb400" stroke-width="1.0"/><circle cx="879.869" cy="498.500" r="3" fill="rgba(0,0,0,0.1)" stroke="#dcb400" stroke-width="1.0"/><circle cx="925.431" cy="498.500" r="3" fill="rgba(0,0,0,0.1)" stroke="#dcb400" stroke-width="1.0"/><circle cx="970.993" cy="498.500" r="3" fill="rgba(0,0,0,0.1)" stroke="#dcb400" stroke-width="1.0"/><circle cx="1016.556" cy="498.500" r="3" fill="rgba(0,0,0,0.1)" stroke="#dcb400" stroke-width="1.0"/><circle cx="1062.118" cy="498.500" r="3" fill="rgba(0,0,0,0.1)" stroke="#dcb400" stroke-width="1.0"/><circle cx="1107.680" cy="419.382" r="3" fill="rgba(0,0,0,0.1)" stroke="#d4ad00" stroke-width="1.5"/><path d="M59.750 498.500C73.419 498.500 91.644 498.500 105.312 498.500C118.981 498.500 137.206 498.500 150.874 498.500C164.543 498.500 182.768 498.500 196.437 498.500C210.105 498.500 228.330 498.500 241.999 498.500C255.667 498.500 273.892 498.500 287.561 498.500C301.230 498.500 319.454 498.500 333.123 498.500C346.792 498.500 365.017 498.500 378.685 498.500C392.354 498.500 410.579 498.500 424.247 498.500C437.916 498.500 456.141 498.500 469.810 498.500C483.478 498.500 506.385 498.500 515.372 498.500C533.723 482.164 544.646 439.687 560.934 417.380C571.983 402.247 592.827 386.804 606.496 373.700" fill="none" stroke="#823ebe" stroke-width="2.0"/><circle cx="59.750" cy="498.500" r="3" fill="rgba(0,0,0,0.1)" stroke="#823ebe" stroke-width="2.0"/><circle cx="105.312" cy="498.500" r="3" fill="rgba(0,0,0,0.1)" stroke="#823ebe" stroke-width="2.0"/><circle cx="150.874" cy="498.500" r="3" fill="rgba(0,0,0,0.1)" stroke="#823ebe" stroke-width="2.0"/><circle cx="196.437" cy="498.500" r="3" fill="rgba(0,0,0,0.1)" stroke="#823ebe" stroke-width="2.0"/><circle cx="241.999" cy="498.500" r="3" fill="rgba(0,0,0,0.1)" stroke="#823ebe" stroke-width="2.0"/><circle cx="287.561" cy="498.500" r="3" fill="rgba(0,0,0,0.1)" stroke="#823ebe" stroke-width="2.0"/><circle cx="333.123" cy="498.500" r="3" fill="rgba(0,0,0,0.1)" stroke="#823ebe" stroke-width="2.0"/><circle cx="378.685" cy="498.500" r="3" fill="rgba(0,0,0,0.1)" stroke="#823ebe" stroke-width="2.0"/><circle cx="424.247" cy="498.500" r="3" fill="rgba(0,0,0,0.1)" stroke="#823ebe" stroke-width="2.0"/><circle cx="469.810" cy="498.500" r="3" fill="rgba(0,0,0,0.1)" stroke="#823ebe" stroke-width="2.0"/><circle cx="515.372" cy="498.500" r="3" fill="rgba(0,0,0,0.1)" stroke="#823ebe" stroke-width="2.0"/><circle cx="560.934" cy="417.380" r="3" fill="rgba(0,0,0,0.1)" stroke="#823ebe" stroke-width="2.0"/><circle cx="606.496" cy="373.700" r="3" fill="rgba(0,0,0,0.1)" stroke="#823ebe" stroke-width="2.0"/><path d="M606.496 417.505C620.165 441.803 633.715 482.195 652.058 498.500C661.052 498.500 683.952 498.500 697.620 498.500C711.289 498.500 729.514 498.500 743.183 498.500C756.851 498.500 775.076 498.500 788.745 498.500C802.413 498.500 820.638 498.500 834.307 498.500C847.976 498.500 866.200 498.500 879.869 498.500C893.538 498.500 911.763 498.500 925.431 498.500C939.100 498.500 957.325 498.500 970.993 498.500C984.662 498.500 1002.887 498.500 1016.556 498.500C1030.224 498.500 1053.215 498.500 1062.118 498.500C1080.552 481.789 1094.011 440.676 1107.680 415.895" fill="none" stroke="#dcb400" stroke-width="1.0" stroke-dasharray="5 5"/><circle cx="606.496" cy="417.505" r="3" fill="rgba(0,0,0,0.1)" stroke="#dcb400" stroke-width="1.0"/><circle cx="652.058" cy="498.500" r="3" fill="rgba(0,0,0,0.1)" stroke="#dcb400" stroke-width="1.0"/><circle cx="697.620" cy="498.500" r="3" fill="rgba(0,0,0,0.1)" stroke="#dcb400" stroke-width="1.0"/><circle cx="743.183" cy="498.500" r="3" fill="rgba(0,0,0,0.1)" stroke="#dcb400" stroke-width="1.0"/><circle cx="788.745" cy="498.500" r="3" fill="rgba(0,0,0,0.1)" stroke="#dcb400" stroke-width="1.0"/><circle cx="834.307" cy="498.500" r="3" fill="rgba(0,0,0,0.1)" stroke="#dcb400" stroke-width="1.0"/><circle cx="879.869" cy="498.500" r="3" fill="rgba(0,0,0,0.1)" stroke="#dcb400" stroke-width="1.0"/><circle cx="925.431" cy="498.500" r="3" fill="rgba(0,0,0,0.1)" stroke="#dcb400" stroke-width="1.0"/><circle cx="970.993" cy="498.500" r="3" fill="rgba(0,0,0,0.1)" stroke="#dcb400" stroke-width="1.0"/><circle cx="1016.556" cy="498.500" r="3" fill="rgba(0,0,0,0.1)" stroke="#dcb400" stroke-width="1.0"/><circle cx="1062.118" cy="498.500" r="3" fill="rgba(0,0,0,0.1)" stroke="#dcb400" stroke-width="1.0"/><circle cx="1107.680" cy="415.895" r="3" fill="rgba(0,0,0,0.1)" stroke="#d4ad00" stroke-width="1.5"/><path d="M59.750 498.500C73.419 498.500 91.644 498.500 105.312 498.500C118.981 498.500 137.206 498.500 150.874 498.500C164.543 498.500 182.768 498.500 196.437 498.500C210.105 498.500 228.330 498.500 241.999 498.500C255.667 498.500 273.892 498.500 287.561 498.500C301.230 498.500 319.454 498.500 333.123 498.500C346.792 498.500 365.017 498.500 378.685 498.500C392.354 498.500 410.579 498.500 424.247 498.500C437.916 498.500 456.141 498.500 469.810 498.500C483.478 498.500 512.425 498.500 515.372 498.500C539.763 398.286 547.265 124.100 560.934 124.100C574.603 124.100 592.827 386.180 606.496 498.500" fill="none" stroke="#823ebe" stroke-width="2.0"/><circle cx="59.750" cy="498.500" r="3" fill="rgba(0,0,0,0.1)" stroke="#823ebe" stroke-width="2.0"/><circle cx="105.312" cy="498.500" r="3" fill="rgba(0,0,0,0.1)" stroke="#823ebe" stroke-width="2.0"/><circle cx="150.874" cy="498.500" r="3" fill="rgba(0,0,0,0.1)" stroke="#823ebe" stroke-width="2.0"/><circle cx="196.437" cy="498.500" r="3" fill="rgba(0,0,0,0.1)" stroke="#823ebe" stroke-width="2.0"/><circle cx="241.999" cy="498.500" r="3" fill="rgba(0,0,0,0.1)" stroke="#823ebe" stroke-width="2.0"/><circle cx="287.561" cy="498.500" r="3" fill="rgba(0,0,0,0.1)" stroke="#823ebe" stroke-width="2.0"/><circle cx="333.123" cy="498.500" r="3" fill="rgba(0,0,0,0.1)" stroke="#823ebe" stroke-width="2.0"/><circle cx="378.685" cy="498.500" r="3" fill="rgba(0,0,0,0.1)" stroke="#823ebe" stroke-width="2.0"/><circle cx="424.247" cy="498.500" r="3" fill="rgba(0,0,0,0.1)" stroke="#823ebe" stroke-width="2.0"/><circle cx="469.810" cy="498.500" r="3" fill="rgba(0,0,0,0.1)" stroke="#823ebe" stroke-width="2.0"/><circle cx="515.372" cy="498.500" r="3" fill="rgba(0,0,0,0.1)" stroke="#823ebe" stroke-width="2.0"/><circle cx="560.934" cy="124.100" r="3" fill="rgba(0,0,0,0.1)" stroke="#823ebe" stroke-width="2.0"/><circle cx="606.496" cy="498.500" r="3" fill="rgba(0,0,0,0.1)" stroke="#823ebe" stroke-width="2.0"/><path d="M606.496 413.386C620.165 438.920 633.486 481.153 652.058 498.500C660.823 498.500 683.952 498.500 697.620 498.500C711.289 498.500 729.514 498.500 743.183 498.500C756.851 498.500 775.076 498.500 788.745 498.500C802.413 498.500 820.638 498.500 834.307 498.500C847.976 498.500 866.200 498.500 879.869 498.500C893.538 498.500 911.763 498.500 925.431 498.500C939.100 498.500 957.325 498.500 970.993 498.500C984.662 498.500 1002.887 498.500 1016.556 498.500C1030.224 498.500 1053.413 498.500 1062.118 498.500C1080.750 480.868 1094.011 438.139 1107.680 412.270" fill="none" stroke="#dcb400" stroke-width="1.0" stroke-dasharray="5 5"/><circle cx="606.496" cy="413.386" r="3" fill="rgba(0,0,0,0.1)" stroke="#dcb400" stroke-width="1.0"/><circle cx="652.058" cy="498.500" r="3" fill="rgba(0,0,0,0.1)" stroke="#dcb400" stroke-width="1.0"/><circle cx="697.620" cy="498.500" r="3" fill="rgba(0,0,0,0.1)" stroke="#dcb400" stroke-width="1.0"/><circle cx="743.183" cy="498.500" r="3" fill="rgba(0,0,0,0.1)" stroke="#dcb400" stroke-width="1.0"/><circle cx="788.745" cy="498.500" r="3" fill="rgba(0,0,0,0.1)" stroke="#dcb400" stroke-width="1.0"/><circle cx="834.307" cy="498.500" r="3" fill="rgba(0,0,0,0.1)" stroke="#dcb400" stroke-width="1.0"/><circle cx="879.869" cy="498.500" r="3" fill="rgba(0,0,0,0.1)" stroke="#dcb400" stroke-width="1.0"/><circle cx="925.431" cy="498.500" r="3" fill="rgba(0,0,0,0.1)" stroke="#dcb400" stroke-width="1.0"/><circle cx="970.993" cy="498.500" r="3" fill="rgba(0,0,0,0.1)" stroke="#dcb400" stroke-width="1.0"/><circle cx="1016.556" cy="498.500" r="3" fill="rgba(0,0,0,0.1)" stroke="#dcb400" stroke-width="1.0"/><circle cx="1062.118" cy="498.500" r="3" fill="rgba(0,0,0,0.1)" stroke="#dcb400" stroke-width="1.0"/><circle cx="1107.680" cy="412.270" r="3" fill="rgba(0,0,0,0.1)" stroke="#d4ad00" stroke-width="1.5"/><path d="M59.750 498.500C73.419 498.500 91.644 498.500 105.312 498.500C118.981 498.500 137.206 498.500 150.874 498.500C164.543 498.500 182.768 498.500 196.437 498.500C210.105 498.500 228.330 498.500 241.999 498.500C255.667 498.500 273.892 498.500 287.561 498.500C301.230 498.500 319.454 498.500 333.123 498.500C346.792 498.500 365.017 498.500 378.685 498.500C392.354 498.500 410.579 498.500 424.247 498.500C437.916 498.500 456.141 498.500 469.810 498.500C483.478 498.500 511.798 498.500 515.372 498.500C539.135 420.391 542.431 231.924 560.934 198.980C569.768 183.252 592.827 295.076 606.496 336.260" fill="none" stroke="#823ebe" stroke-width="2.0"/><circle cx="59.750" cy="498.500" r="3" fill="rgba(0,0,0,0.1)" stroke="#823ebe" stroke-width="2.0"/><circle cx="105.312" cy="498.500" r="3" fill="rgba(0,0,0,0.1)" stroke="#823ebe" stroke-width="2.0"/><circle cx="150.874" cy="498.500" r="3" fill="rgba(0,0,0,0.1)" stroke="#823ebe" stroke-width="2.0"/><circle cx="196.437" cy="498.500" r="3" fill="rgba(0,0,0,0.1)" stroke="#823ebe" stroke-width="2.0"/><circle cx="241.999" cy="498.500" r="3" fill="rgba(0,0,0,0.1)" stroke="#823ebe" stroke-width="2.0"/><circle cx="287.561" cy="498.500" r="3" fill="rgba(0,0,0,0.1)" stroke="#823ebe" stroke-width="2.0"/><circle cx="333.123" cy="498.500" r="3" fill="rgba(0,0,0,0.1)" stroke="#823ebe" stroke-width="2.0"/><circle cx="378.685" cy="498.500" r="3" fill="rgba(0,0,0,0.1)" stroke="#823ebe" stroke-width="2.0"/><circle cx="424.247" cy="498.500" r="3" fill="rgba(0,0,0,0.1)" stroke="#823ebe" stroke-width="2.0"/><circle cx="469.810" cy="498.500" r="3" fill="rgba(0,0,0,0.1)" stroke="#823ebe" stroke-width="2.0"/><circle cx="515.372" cy="498.500" r="3" fill="rgba(0,0,0,0.1)" stroke="#823ebe" stroke-width="2.0"/><circle cx="560.934" cy="198.980" r="3" fill="rgba(0,0,0,0.1)" stroke="#823ebe" stroke-width="2.0"/><circle cx="606.496" cy="336.260" r="3" fill="rgba(0,0,0,0.1)" stroke="#823ebe" stroke-width="2.0"/></g>
<g font-family="Liberation Sans, sans-serif" font-size="12" fill="#666"><circle cx="54.405" cy="20.000" r="8.4853" fill="rgba(0,0,0,0.1)" stroke="#823ebe" stroke-width="3.0"/><text x="66.405" y="23.300">Virtual Interior Design</text><circle cx="197.571" cy="20.000" r="8.4853" fill="rgba(0,0,0,0.1)" stroke="#dcb400" stroke-width="1.0"/><text x="209.571" y="23.300">Prediction Virtual Interior Design - {'product_id': 3}</text><circle cx="490.075" cy="20.000" r="8.4853" fill="rgba(0,0,0,0.1)" stroke="#823ebe" stroke-width="3.0"/><text x="502.075" y="23.300">Virtual Home Staging</text><circle cx="631.249" cy="20.000" r="8.4853" fill="rgba(0,0,0,0.1)" stroke="#dcb400" stroke-width="1.0"/><text x="643.249" y="23.300">Prediction Virtual Home Staging - {'product_id': 4}</text><circle cx="921.761" cy="20.000" r="8.4853" fill="rgba(0,0,0,0.1)" stroke="#823ebe" stroke-width="3.0"/><text x="933.761" y="23.300">[FURN_7777] Office Chair</text><circle cx="101.332" cy="42.000" r="8.4853" fill="rgba(0,0,0,0.1)" stroke="#dcb400" stroke-width="1.0"/><text x="113.332" y="45.300">Prediction FURN_7777 - {'product_id': 5}</text><circle cx="345.367" cy="42.000" r="8.4853" fill="rgba(0,0,0,0.1)" stroke="#823ebe" stroke-width="3.0"/><text x="357.367" y="45.300">[FURN_8888] Office Lamp</text><circle cx="514.543" cy="42.000" r="8.4853" fill="rgba(0,0,0,0.1)" stroke="#dcb400" stroke-width="1.0"/><text x="526.543" y="45.300">Prediction FURN_8888 - {'product_id': 6}</text><circle cx="758.578" cy="42.000" r="8.4853" fill="rgba(0,0,0,0.1)" stroke="#823ebe" stroke-width="3.0"/><text x="770.578" y="45.300">[FURN_0096] Customizable Desk (Steel, White)</text><circle cx="108.993" cy="64.000" r="8.4853" fill="rgba(0,0,0,0.1)" stroke="#dcb400" stroke-width="1.0"/><text x="120.993" y="67.300">Prediction FURN_0096 - {'product_id': 12}</text><circle cx="359.702" cy="64.000" r="8.4853" fill="rgba(0,0,0,0.1)" stroke="#823ebe" stroke-width="3.0"/><text x="371.702" y="67.300">[FURN_0269] Office Chair Black</text><circle cx="560.214" cy="64.000" r="8.4853" fill="rgba(0,0,0,0.1)" stroke="#dcb400" stroke-width="1.0"/><text x="572.214" y="67.300">Prediction FURN_0269 - {'product_id': 25}</text><circle cx="810.923" cy="64.000" r="8.4853" fill="rgba(0,0,0,0.1)" stroke="#823ebe" stroke-width="3.0"/><text x="822.923" y="67.300">[FURN_6666] Acoustic Bloc Screens</text><circle cx="142.887" cy="86.000" r="8.4853" fill="rgba(0,0,0,0.1)" stroke="#dcb400" stroke-width="1.0"/><text x="154.887" y="89.300">Prediction FURN_6666 - {'product_id': 31}</text><circle cx="393.596" cy="86.000" r="8.4853" fill="rgba(0,0,0,0.1)" stroke="#823ebe" stroke-width="3.0"/><text x="405.596" y="89.300">[FURN_8855] Drawer</text><circle cx="536.967" cy="86.000" r="8.4853" fill="rgba(0,0,0,0.1)" stroke="#dcb400" stroke-width="1.0"/><text x="548.967" y="89.300">Prediction FURN_8855 - {'product_id': 32}</text><circle cx="787.676" cy="86.000" r="8.4853" fill="rgba(0,0,0,0.1)" stroke="#823ebe" stroke-width="3.0"/><text x="799.676" y="89.300">[FURN_6741] Large Meeting Table</text><circle cx="224.917" cy="108.000" r="8.4853" fill="rgba(0,0,0,0.1)" stroke="#dcb400" stroke-width="1.0"/><text x="236.917" y="111.300">Prediction FURN_6741 - {'product_id': 34}</text><circle cx="475.626" cy="108.000" r="8.4853" fill="rgba(0,0,0,0.1)" stroke="#823ebe" stroke-width="3.0"/><text x="487.626" y="111.300">[FURN_8999] Three-Seat Sofa</text><circle cx="668.374" cy="108.000" r="8.4853" fill="rgba(0,0,0,0.1)" stroke="#dcb400" stroke-width="1.0"/><text x="680.374" y="111.300">Prediction FURN_8999 - {'product_id': 35}</text></g>
<g font-family="Liberation Sans, sans-serif" font-size="12"><path d="M707.719 273.316L1109.680 273.316Q1115.680 273.316 1115.680 279.316L1115.680 435.316Q1115.680 441.316 1109.680 441.316L1109.680 441.316 L1104.680 446.316 L1099.680 441.316L707.719 441.316Q701.719 441.316 701.719 435.316L701.719 279.316Q701.719 273.316 707.719 273.316Z" fill="rgba(0,0,0,0.8)"/><text x="707.719" y="288.616" font-weight="bold" fill="#fff">2023-04</text><rect x="707.719" y="297.316" width="12" height="12" fill="#fff" stroke="#dcb400" stroke-width="1"/><rect x="708.719" y="298.316" width="10" height="10" fill="rgba(0,0,0,0.1)"/><text x="721.719" y="306.616" fill="#fff">Prediction Virtual Interior Design - {'product_id': 3}: 13.818938763291007</text><rect x="707.719" y="311.316" width="12" height="12" fill="#fff" stroke="#dcb400" stroke-width="1"/><rect x="708.719" y="312.316" width="10" height="10" fill="rgba(0,0,0,0.1)"/><text x="721.719" y="320.616" fill="#fff">Prediction Virtual Home Staging - {'product_id': 4}: 13.238028205375077</text><rect x="707.719" y="325.316" width="12" height="12" fill="#fff" stroke="#dcb400" stroke-width="1"/><rect x="708.719" y="326.316" width="10" height="10" fill="rgba(0,0,0,0.1)"/><text x="721.719" y="334.616" fill="#fff">Prediction FURN_7777 - {'product_id': 5}: 12.67915656110501</text><rect x="707.719" y="339.316" width="12" height="12" fill="#fff" stroke="#dcb400" stroke-width="1"/><rect x="708.719" y="340.316" width="10" height="10" fill="rgba(0,0,0,0.1)"/><text x="721.719" y="348.616" fill="#fff">Prediction FURN_8888 - {'product_id': 6}: 12.141592000107963</text><rect x="707.719" y="353.316" width="12" height="12" fill="#fff" stroke="#dcb400" stroke-width="1"/><rect x="708.719" y="354.316" width="10" height="10" fill="rgba(0,0,0,0.1)"/><text x="721.719" y="362.616" fill="#fff">Prediction FURN_0096 - {'product_id': 12}: 9.325234540299464</text><rect x="707.719" y="367.316" width="12" height="12" fill="#fff" stroke="#dcb400" stroke-width="1"/><rect x="708.719" y="368.316" width="10" height="10" fill="rgba(0,0,0,0.1)"/><text x="721.719" y="376.616" fill="#fff">Prediction FURN_0269 - {'product_id': 25}: 5.142278311340169</text><rect x="707.719" y="381.316" width="12" height="12" fill="#fff" stroke="#dcb400" stroke-width="1"/><rect x="708.719" y="382.316" width="10" height="10" fill="rgba(0,0,0,0.1)"/><text x="721.719" y="390.616" fill="#fff">Prediction FURN_6666 - {'product_id': 31}: 3.8658156048631827</text><rect x="707.719" y="395.316" width="12" height="12" fill="#fff" stroke="#dcb400" stroke-width="1"/><rect x="708.719" y="396.316" width="10" height="10" fill="rgba(0,0,0,0.1)"/><text x="721.719" y="404.616" fill="#fff">Prediction FURN_8855 - {'product_id': 32}: 3.683958950900517</text><rect x="707.719" y="409.316" width="12" height="12" fill="#fff" stroke="#dcb400" stroke-width="1"/><rect x="708.719" y="410.316" width="10" height="10" fill="rgba(0,0,0,0.1)"/><text x="721.719" y="418.616" fill="#fff">Prediction FURN_6741 - {'product_id': 34}: 3.343735989783622</text><rect x="707.719" y="423.316" width="12" height="12" fill="#fff" stroke="#dcb400" stroke-width="1"/><rect x="708.719" y="424.316" width="10" height="10" fill="rgba(0,0,0,0.1)"/><text x="721.719" y="432.616" fill="#fff">Prediction FURN_8999 - {'product_id': 35}: 3.1847598872401366</text></g>
<path d="M1075.1 402.0 L1086.0 413.4 L1083.0 415.8 L1083.3 420.7 L1081.1 421.0 L1079.2 418.2 L1075.1 417.7Z" fill="#fff" stroke="#000" stroke-width="2" stroke-linejoin="round" paint-order="stroke"/>
</g>
</svg>
</body></html>
